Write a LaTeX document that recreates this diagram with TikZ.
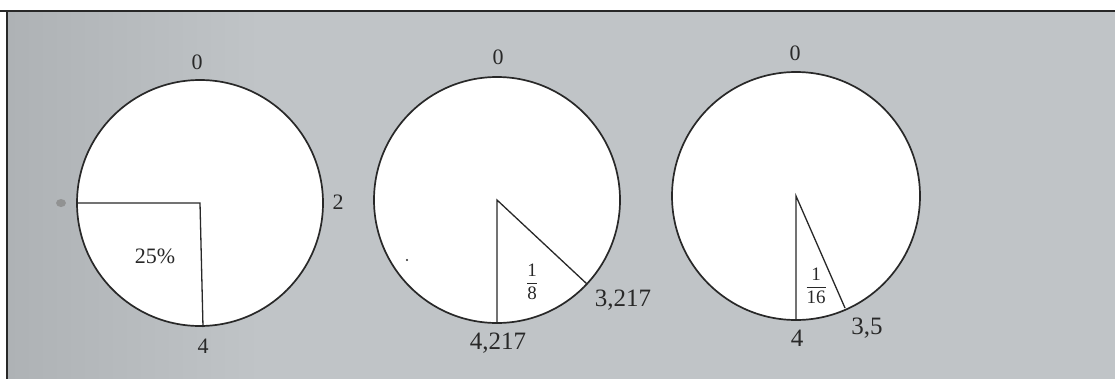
\documentclass[tikz,border=0pt]{standalone}
\usepackage{fontspec}
\usepackage{amsmath}
\setmainfont{Liberation Serif}
\definecolor{paper}{RGB}{192,196,199}
\definecolor{paperdark}{RGB}{174,178,181}
\definecolor{ink}{RGB}{40,40,40}
\begin{document}
\begin{tikzpicture}[x=1pt,y=-1pt,
  pie/.style={fill=white,draw=ink,line width=1.7pt},
  radius/.style={draw=ink,line width=1.3pt},
  lbl/.style={inner sep=0pt,text=ink,font=\fontsize{22}{22}\selectfont},
  biglbl/.style={inner sep=0pt,text=ink,font=\fontsize{25}{25}\selectfont},
  frac/.style={inner sep=0pt,text=ink,font=\fontsize{19}{19}\selectfont}]
\useasboundingbox (0,0) rectangle (1115,378);
\fill[white] (0,0) rectangle (1115,378);
\fill[paper] (7,11) rectangle (1115,385);
\shade[left color=paperdark,right color=paper] (7,11) rectangle (260,385);
\draw[ink,line width=2pt] (0,11) -- (1115,11);
\draw[ink,line width=2pt] (7,11) -- (7,385);

% circle 1
\coordinate (c1) at (200,203);
\coordinate (c1w) at (77,203);
\coordinate (c1s) at (203,327);
\draw[pie] (c1) circle (123);
\draw[radius] (c1w) -- (c1) -- (c1s);
\node[lbl] (c1top) at (197,62) {0};
\node[lbl] (c1right) at (338,202) {2};
\node[lbl] (c1bottom) at (203,346) {4};
\node[lbl] (c1pct) at (155,256) {25\%};
\fill[ink!55,opacity=0.8] (61,203) ellipse (5 and 4);

% circle 2
\coordinate (c2) at (497,200);
\coordinate (c2s) at (497,323);
\coordinate (c2e) at (587,284);
\draw[pie] (c2) circle (123);
\draw[radius] (c2s) -- (c2) -- (c2e);
\node[lbl] (c2top) at (498,57) {0};
\node[biglbl] (c2a) at (623,300) {3,217};
\node[biglbl] (c2b) at (498,343) {4,217};
\node[frac] (c2f) at (532,282) {$\displaystyle\frac{\text{1}}{\text{8}}$};
\fill[ink] (407,260) circle (1.2);

% circle 3
\coordinate (c3) at (796,196);
\coordinate (c3s) at (796,320);
\coordinate (c3e) at (845,308);
\draw[pie] (c3) circle (124);
\draw[radius] (c3s) -- (c3) -- (c3e);
\node[lbl] (c3top) at (795,53) {0};
\node[biglbl] (c3a) at (867,328) {3,5};
\node[biglbl] (c3b) at (797,338) {4};
\node[frac] (c3f) at (816,286) {$\displaystyle\frac{\text{1}}{\text{16}}$};
\end{tikzpicture}
\end{document}
